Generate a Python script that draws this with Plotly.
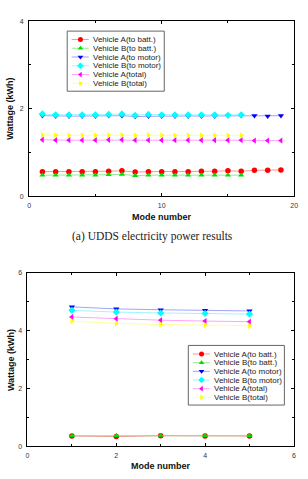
import plotly.graph_objects as go

W, H = 308, 479

# ---------------- data ----------------
series_names = ["Vehicle A(to batt.)", "Vehicle B(to batt.)", "Vehicle A(to motor)",
                "Vehicle B(to motor)", "Vehicle A(total)", "Vehicle B(total)"]

udds_modes_a = list(range(1, 20))
udds_modes_b = list(range(1, 17))
udds_a_batt = [0.56, 0.56, 0.56, 0.56, 0.56, 0.57, 0.58, 0.55, 0.56, 0.56,
               0.56, 0.56, 0.57, 0.57, 0.58, 0.57, 0.59, 0.59, 0.60]
udds_b_batt = [0.48, 0.48, 0.48, 0.48, 0.48, 0.49, 0.50, 0.47, 0.48, 0.48,
               0.48, 0.48, 0.48, 0.48, 0.48, 0.48]
udds_a_motor = [1.84, 1.83, 1.83, 1.83, 1.83, 1.84, 1.84, 1.82, 1.83, 1.83,
                1.83, 1.83, 1.83, 1.83, 1.84, 1.84, 1.84, 1.83, 1.84]
udds_b_motor = [1.88, 1.86, 1.86, 1.86, 1.86, 1.87, 1.88, 1.85, 1.87, 1.86,
                1.86, 1.86, 1.86, 1.86, 1.85, 1.86]
udds_a_total = [1.29, 1.28, 1.28, 1.28, 1.28, 1.29, 1.29, 1.28, 1.28, 1.28,
                1.28, 1.28, 1.28, 1.28, 1.28, 1.28, 1.27, 1.27, 1.27]
udds_b_total = [1.40, 1.39, 1.39, 1.39, 1.39, 1.40, 1.40, 1.39, 1.40, 1.39,
                1.39, 1.39, 1.39, 1.39, 1.39, 1.39]

hwy_modes = [1, 2, 3, 4, 5]
hwy_a_batt = [0.36, 0.34, 0.37, 0.36, 0.36]
hwy_b_batt = [0.37, 0.37, 0.38, 0.37, 0.37]
hwy_a_motor = [4.82, 4.75, 4.72, 4.70, 4.68]
hwy_b_motor = [4.70, 4.64, 4.61, 4.59, 4.57]
hwy_a_total = [4.47, 4.41, 4.36, 4.33, 4.31]
hwy_b_total = [4.33, 4.25, 4.21, 4.19, 4.17]

caption_top = "(a) UDDS electricity power results"
x_title = "Mode number"
y_title = "Wattage (kWh)"

# ---------------- styles ----------------
colors = ["#FF0000", "#00DD00", "#0000FF", "#00FFFF", "#FF00FF", "#FFFF00"]
line_colors = ["rgba(255,120,120,0.8)", "rgba(120,230,120,0.8)", "rgba(140,140,255,0.8)",
               "rgba(140,240,255,0.8)", "rgba(255,140,255,0.8)", "rgba(255,255,140,0.9)"]
symbols = ["circle", "triangle-up", "triangle-down", "diamond", "triangle-left", "triangle-right"]
msize = 5.5

fig = go.Figure()

top_sets = [(udds_modes_a, udds_a_batt), (udds_modes_b, udds_b_batt),
            (udds_modes_a, udds_a_motor), (udds_modes_b, udds_b_motor),
            (udds_modes_a, udds_a_total), (udds_modes_b, udds_b_total)]
bot_sets = [(hwy_modes, hwy_a_batt), (hwy_modes, hwy_b_batt),
            (hwy_modes, hwy_a_motor), (hwy_modes, hwy_b_motor),
            (hwy_modes, hwy_a_total), (hwy_modes, hwy_b_total)]

for i, (xs, ys) in enumerate(top_sets):
    fig.add_trace(go.Scatter(x=xs, y=ys, mode="lines+markers", name=series_names[i],
                             xaxis="x", yaxis="y", showlegend=False,
                             line=dict(color=line_colors[i], width=1),
                             marker=dict(symbol=symbols[i], size=msize, color=colors[i],
                                         line=dict(width=0))))
for i, (xs, ys) in enumerate(bot_sets):
    fig.add_trace(go.Scatter(x=xs, y=ys, mode="lines+markers", name=series_names[i],
                             xaxis="x2", yaxis="y2", showlegend=False,
                             line=dict(color=line_colors[i], width=1),
                             marker=dict(symbol=symbols[i], size=msize, color=colors[i],
                                         line=dict(width=0))))

# ---------------- manual legends (pixel overlay) ----------------
shapes = []
annotations = []
legend_font = dict(family="Liberation Sans, Arial", size=8, color="#222")


def add_legend(left, top, width, height, first, step):
    shapes.append(dict(type="rect", xref="paper", yref="paper", layer="below",
                       x0=left / W, x1=(left + width) / W,
                       y0=1 - top / H, y1=1 - (top + height) / H,
                       line=dict(color="#666", width=1), fillcolor="white"))
    kx, ky, ks, kc = [], [], [], []
    for i, name in enumerate(series_names):
        yc = top + first + i * step
        shapes.append(dict(type="line", xref="paper", yref="paper", layer="below",
                           x0=(left + 4.5) / W, x1=(left + 22) / W,
                           y0=1 - yc / H, y1=1 - yc / H,
                           line=dict(color=line_colors[i], width=1)))
        kx.append(left + 13.5)
        ky.append(yc)
        ks.append(symbols[i])
        kc.append(colors[i])
        annotations.append(dict(xref="paper", yref="paper", x=(left + 24.5) / W, y=1 - yc / H,
                                text=name, showarrow=False, xanchor="left", yanchor="middle",
                                font=legend_font))
    fig.add_trace(go.Scatter(x=kx, y=ky, mode="markers", xaxis="x3", yaxis="y3",
                             showlegend=False, hoverinfo="skip", cliponaxis=False,
                             marker=dict(symbol=ks, color=kc, size=5, line=dict(width=0))))


add_legend(66.5, 27.5, 99, 61, 8.5, 8.9)
add_legend(190, 346.5, 98, 60.5, 8.7, 8.8)

tick_font = dict(family="Liberation Sans, Arial", size=7, color="#333")
title_font = dict(family="Liberation Sans, Arial", size=9, color="#111")


def xax(domain, anchor, rng, tickvals, minor_dtick):
    return dict(domain=domain, anchor=anchor, range=rng, tickvals=tickvals,
                ticks="inside", ticklen=3, tickwidth=1, tickcolor="black",
                showline=True, linecolor="black", linewidth=1, mirror="ticks",
                showgrid=False, zeroline=False, tickfont=tick_font,
                minor=dict(ticks="inside", ticklen=2, tickwidth=1, tickcolor="black",
                           dtick=minor_dtick, tick0=0, showgrid=False))


fig.update_layout(
    width=W, height=H, margin=dict(l=0, r=0, t=0, b=0),
    paper_bgcolor="white", plot_bgcolor="rgba(0,0,0,0)",
    xaxis=xax([27.7 / W, 298 / W], "y", [0, 20], [0, 10, 20], 5),
    yaxis=xax([1 - 195 / H, 1 - 17.5 / H], "x", [0, 4], [0, 2, 4], 1),
    xaxis2=xax([26 / W, 297.7 / W], "y2", [0, 6], [0, 2, 4, 6], 1),
    yaxis2=xax([1 - 449 / H, 1 - 272.7 / H], "x2", [0, 6], [0, 2, 4, 6], 1),
    xaxis3=dict(domain=[0, 1], anchor="y3", range=[0, W], visible=False),
    yaxis3=dict(domain=[0, 1], anchor="x3", range=[H, 0], visible=False),
    shapes=shapes,
)

for ax in ("yaxis", "yaxis2"):
    fig.layout[ax].ticklabelstandoff = 3
for ax in ("xaxis", "xaxis2"):
    fig.layout[ax].ticklabelstandoff = 2

annotations += [
    dict(xref="paper", yref="paper", x=163 / W, y=1 - 216.5 / H, text="<b>%s</b>" % x_title,
         showarrow=False, xanchor="center", yanchor="middle", font=title_font),
    dict(xref="paper", yref="paper", x=162 / W, y=1 - 469 / H, text="<b>%s</b>" % x_title,
         showarrow=False, xanchor="center", yanchor="middle", font=title_font),
    dict(xref="paper", yref="paper", x=8.5 / W, y=1 - 106 / H, text="<b>%s</b>" % y_title,
         showarrow=False, xanchor="center", yanchor="middle", textangle=-90, font=title_font),
    dict(xref="paper", yref="paper", x=8.5 / W, y=1 - 361 / H, text="<b>%s</b>" % y_title,
         showarrow=False, xanchor="center", yanchor="middle", textangle=-90, font=title_font),
    dict(xref="paper", yref="paper", x=153 / W, y=1 - 236 / H, text=caption_top,
         showarrow=False, xanchor="center", yanchor="middle",
         font=dict(family="Liberation Serif, Times New Roman", size=11.5, color="#222")),
]
fig.update_layout(annotations=annotations)

fig.write_html("out.html")
